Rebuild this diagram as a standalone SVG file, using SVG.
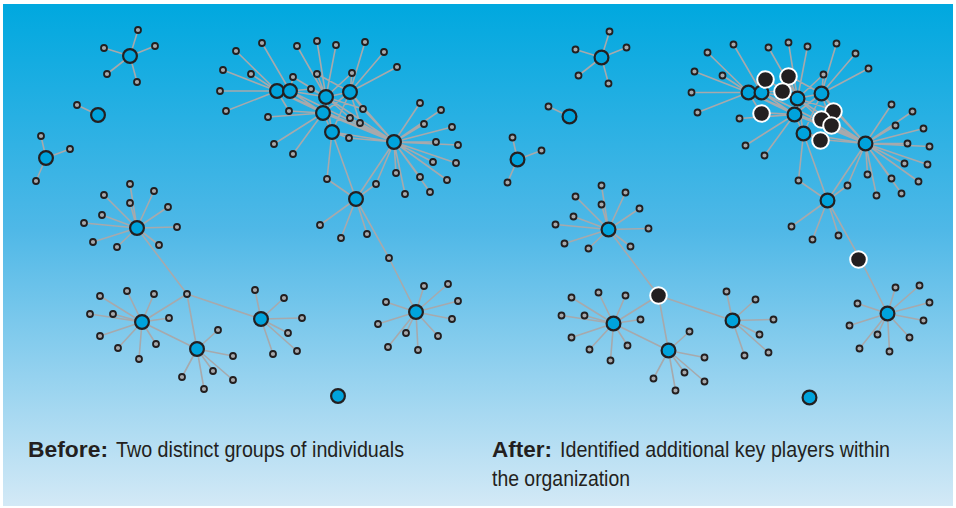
<svg xmlns="http://www.w3.org/2000/svg" width="956" height="508" viewBox="0 0 956 508">
<defs>
<linearGradient id="bgGrad" x1="0" y1="0" x2="0" y2="1">
<stop offset="0" stop-color="#00a8df"/>
<stop offset="0.45" stop-color="#4fb8e7"/>
<stop offset="1" stop-color="#d3e9f6"/>
</linearGradient>
<style>
.e{stroke:#a7a9ac;stroke-width:1.6;fill:none}
.hub{fill:#00a3dc;stroke:#231f20;stroke-width:2.2}
.sm{fill:#a7a9ac;stroke:#231f20;stroke-width:1.8}
.key{fill:#231f20;stroke:#ffffff;stroke-width:2}
.t{font-family:"Liberation Sans Narrow","Liberation Sans",Arial,sans-serif;font-size:22px;fill:#231f20}
.b{font-weight:bold}
</style>
</defs>
<rect x="0" y="0" width="956" height="508" fill="#ffffff"/>
<rect x="3" y="4" width="950" height="502" fill="url(#bgGrad)"/>

<g id="connectors">
<path id="edges-before" class="e" d="M130 56L138 30M130 56L155 46M130 56L104 48M130 56L107 74M130 56L137 82M98 115L77 105M46 158L41 136M46 158L70 149M46 158L36 181M277 91L236 51M277 91L223 70M277 91L251 74M277 91L220 91M277 91L226 111M277 91L289 111M290 91L262 43M290 91L293 77M290 91L311 89M326 97L297 46M326 97L317 41M326 97L336 45M326 97L317 74M326 97L293 77M326 97L311 89M326 97L352 73M326 97L363 109M326 97L350 118M350 92L365 42M350 92L384 52M350 92L397 67M350 92L352 73M350 92L317 74M350 92L360 123M350 92L363 109M323 113L268 117M323 113L274 144M323 113L293 154M323 113L289 111M332 132L327 179M332 132L349 138M356 199L320 225M356 199L341 238M356 199L367 234M356 199L327 179M356 199L376 184M356 199L389 258M356 199L332 132M356 199L394 142M394 142L420 103M394 142L441 110M394 142L424 124M394 142L452 127M394 142L436 142M394 142L458 145M394 142L433 162M394 142L456 163M394 142L396 173M394 142L420 177M394 142L447 180M394 142L430 192M394 142L405 194M394 142L376 184M394 142L363 109M394 142L350 118M394 142L360 123M394 142L349 138M394 142L277 91M394 142L290 91M394 142L326 97M394 142L350 92M394 142L323 113M394 142L332 132M277 91L290 91M277 91L323 113M290 91L323 113M290 91L326 97M326 97L323 113M326 97L332 132M326 97L350 92M350 92L323 113M323 113L332 132M350 92L332 132M137 228L130 184M137 228L104 195M137 228L154 191M137 228L130 203M137 228L102 215M137 228L168 207M137 228L84 223M137 228L177 227M137 228L93 242M137 228L117 247M137 228L159 245M137 228L187 294M187 294L142 322M187 294L197 349M187 294L261 319M142 322L197 349M142 322L100 296M142 322L127 291M142 322L154 294M142 322L90 314M142 322L113 314M142 322L169 318M142 322L100 336M142 322L118 348M142 322L139 359M142 322L156 344M197 349L218 330M197 349L233 356M197 349L213 371M197 349L233 380M197 349L182 377M197 349L204 389M261 319L255 290M261 319L284 298M261 319L302 318M261 319L288 333M261 319L297 351M261 319L273 354M389 258L416 312M416 312L424 286M416 312L448 284M416 312L458 301M416 312L386 302M416 312L378 324M416 312L452 319M416 312L406 333M416 312L438 336M416 312L388 347M416 312L418 350"/>
<path id="edges-after" class="e" transform="translate(471.5,1.5)" d="M130 56L138 30M130 56L155 46M130 56L104 48M130 56L107 74M130 56L137 82M98 115L77 105M46 158L41 136M46 158L70 149M46 158L36 181M277 91L236 51M277 91L223 70M277 91L251 74M277 91L220 91M277 91L226 111M277 91L289 111M290 91L262 43M290 91L293 77M290 91L311 89M326 97L297 46M326 97L317 41M326 97L336 45M326 97L317 74M326 97L293 77M326 97L311 89M326 97L352 73M326 97L363 109M326 97L350 118M350 92L365 42M350 92L384 52M350 92L397 67M350 92L352 73M350 92L317 74M350 92L360 123M350 92L363 109M323 113L268 117M323 113L274 144M323 113L293 154M323 113L289 111M332 132L327 179M332 132L349 138M356 199L320 225M356 199L341 238M356 199L367 234M356 199L327 179M356 199L376 184M356 199L389 258M356 199L332 132M356 199L394 142M394 142L420 103M394 142L441 110M394 142L424 124M394 142L452 127M394 142L436 142M394 142L458 145M394 142L433 162M394 142L456 163M394 142L396 173M394 142L420 177M394 142L447 180M394 142L430 192M394 142L405 194M394 142L376 184M394 142L363 109M394 142L350 118M394 142L360 123M394 142L349 138M394 142L277 91M394 142L290 91M394 142L326 97M394 142L350 92M394 142L323 113M394 142L332 132M277 91L290 91M277 91L323 113M290 91L323 113M290 91L326 97M326 97L323 113M326 97L332 132M326 97L350 92M350 92L323 113M323 113L332 132M350 92L332 132M137 228L130 184M137 228L104 195M137 228L154 191M137 228L130 203M137 228L102 215M137 228L168 207M137 228L84 223M137 228L177 227M137 228L93 242M137 228L117 247M137 228L159 245M137 228L187 294M187 294L142 322M187 294L197 349M187 294L261 319M142 322L197 349M142 322L100 296M142 322L127 291M142 322L154 294M142 322L90 314M142 322L113 314M142 322L169 318M142 322L100 336M142 322L118 348M142 322L139 359M142 322L156 344M197 349L218 330M197 349L233 356M197 349L213 371M197 349L233 380M197 349L182 377M197 349L204 389M261 319L255 290M261 319L284 298M261 319L302 318M261 319L288 333M261 319L297 351M261 319L273 354M389 258L416 312M416 312L424 286M416 312L448 284M416 312L458 301M416 312L386 302M416 312L378 324M416 312L452 319M416 312L406 333M416 312L438 336M416 312L388 347M416 312L418 350"/>
</g>

<g id="before">
<g id="b-n1"><circle class="sm" cx="138" cy="30" r="3"/></g>
<g id="b-n2"><circle class="sm" cx="155" cy="46" r="3"/></g>
<g id="b-n3"><circle class="sm" cx="104" cy="48" r="3"/></g>
<g id="b-n4"><circle class="sm" cx="107" cy="74" r="3"/></g>
<g id="b-n5"><circle class="sm" cx="137" cy="82" r="3"/></g>
<g id="b-o1"><circle class="sm" cx="77" cy="105" r="3"/></g>
<g id="b-p1"><circle class="sm" cx="41" cy="136" r="3"/></g>
<g id="b-p2"><circle class="sm" cx="70" cy="149" r="3"/></g>
<g id="b-p3"><circle class="sm" cx="36" cy="181" r="3"/></g>
<g id="b-t1"><circle class="sm" cx="262" cy="43" r="3"/></g>
<g id="b-t2"><circle class="sm" cx="236" cy="51" r="3"/></g>
<g id="b-t3"><circle class="sm" cx="297" cy="46" r="3"/></g>
<g id="b-t4"><circle class="sm" cx="317" cy="41" r="3"/></g>
<g id="b-t5"><circle class="sm" cx="336" cy="45" r="3"/></g>
<g id="b-t6"><circle class="sm" cx="365" cy="42" r="3"/></g>
<g id="b-t7"><circle class="sm" cx="384" cy="52" r="3"/></g>
<g id="b-t8"><circle class="sm" cx="397" cy="67" r="3"/></g>
<g id="b-t9"><circle class="sm" cx="223" cy="70" r="3"/></g>
<g id="b-t10"><circle class="sm" cx="251" cy="74" r="3"/></g>
<g id="b-t11"><circle class="sm" cx="293" cy="77" r="3"/></g>
<g id="b-t12"><circle class="sm" cx="317" cy="74" r="3"/></g>
<g id="b-t13"><circle class="sm" cx="352" cy="73" r="3"/></g>
<g id="b-t14"><circle class="sm" cx="220" cy="91" r="3"/></g>
<g id="b-t15"><circle class="sm" cx="311" cy="89" r="3"/></g>
<g id="b-t16"><circle class="sm" cx="226" cy="111" r="3"/></g>
<g id="b-t17"><circle class="sm" cx="268" cy="117" r="3"/></g>
<g id="b-t18"><circle class="sm" cx="289" cy="111" r="3"/></g>
<g id="b-t19"><circle class="sm" cx="363" cy="109" r="3"/></g>
<g id="b-t20"><circle class="sm" cx="350" cy="118" r="3"/></g>
<g id="b-t21"><circle class="sm" cx="360" cy="123" r="3"/></g>
<g id="b-t22"><circle class="sm" cx="349" cy="138" r="3"/></g>
<g id="b-t23"><circle class="sm" cx="274" cy="144" r="3"/></g>
<g id="b-t24"><circle class="sm" cx="293" cy="154" r="3"/></g>
<g id="b-t25"><circle class="sm" cx="327" cy="179" r="3"/></g>
<g id="b-t26"><circle class="sm" cx="376" cy="184" r="3"/></g>
<g id="b-h1"><circle class="sm" cx="420" cy="103" r="3"/></g>
<g id="b-h2"><circle class="sm" cx="441" cy="110" r="3"/></g>
<g id="b-h3"><circle class="sm" cx="424" cy="124" r="3"/></g>
<g id="b-h4"><circle class="sm" cx="452" cy="127" r="3"/></g>
<g id="b-h5"><circle class="sm" cx="436" cy="142" r="3"/></g>
<g id="b-h6"><circle class="sm" cx="458" cy="145" r="3"/></g>
<g id="b-h7"><circle class="sm" cx="433" cy="162" r="3"/></g>
<g id="b-h8"><circle class="sm" cx="456" cy="163" r="3"/></g>
<g id="b-h9"><circle class="sm" cx="396" cy="173" r="3"/></g>
<g id="b-h10"><circle class="sm" cx="420" cy="177" r="3"/></g>
<g id="b-h11"><circle class="sm" cx="447" cy="180" r="3"/></g>
<g id="b-h12"><circle class="sm" cx="430" cy="192" r="3"/></g>
<g id="b-h13"><circle class="sm" cx="405" cy="194" r="3"/></g>
<g id="b-g1"><circle class="sm" cx="320" cy="225" r="3"/></g>
<g id="b-g2"><circle class="sm" cx="341" cy="238" r="3"/></g>
<g id="b-g3"><circle class="sm" cx="367" cy="234" r="3"/></g>
<g id="b-jx2"><circle class="sm" cx="389" cy="258" r="3"/></g>
<g id="b-i1"><circle class="sm" cx="130" cy="184" r="3"/></g>
<g id="b-i2"><circle class="sm" cx="104" cy="195" r="3"/></g>
<g id="b-i3"><circle class="sm" cx="154" cy="191" r="3"/></g>
<g id="b-i4"><circle class="sm" cx="130" cy="203" r="3"/></g>
<g id="b-i5"><circle class="sm" cx="102" cy="215" r="3"/></g>
<g id="b-i6"><circle class="sm" cx="168" cy="207" r="3"/></g>
<g id="b-i7"><circle class="sm" cx="84" cy="223" r="3"/></g>
<g id="b-i8"><circle class="sm" cx="177" cy="227" r="3"/></g>
<g id="b-i9"><circle class="sm" cx="93" cy="242" r="3"/></g>
<g id="b-i10"><circle class="sm" cx="117" cy="247" r="3"/></g>
<g id="b-i11"><circle class="sm" cx="159" cy="245" r="3"/></g>
<g id="b-jx1"><circle class="sm" cx="187" cy="294" r="3"/></g>
<g id="b-j1"><circle class="sm" cx="100" cy="296" r="3"/></g>
<g id="b-j2"><circle class="sm" cx="127" cy="291" r="3"/></g>
<g id="b-j3"><circle class="sm" cx="154" cy="294" r="3"/></g>
<g id="b-j4"><circle class="sm" cx="90" cy="314" r="3"/></g>
<g id="b-j5"><circle class="sm" cx="113" cy="314" r="3"/></g>
<g id="b-j6"><circle class="sm" cx="169" cy="318" r="3"/></g>
<g id="b-j7"><circle class="sm" cx="100" cy="336" r="3"/></g>
<g id="b-j8"><circle class="sm" cx="118" cy="348" r="3"/></g>
<g id="b-j9"><circle class="sm" cx="139" cy="359" r="3"/></g>
<g id="b-j10"><circle class="sm" cx="156" cy="344" r="3"/></g>
<g id="b-k1"><circle class="sm" cx="218" cy="330" r="3"/></g>
<g id="b-k2"><circle class="sm" cx="233" cy="356" r="3"/></g>
<g id="b-k3"><circle class="sm" cx="213" cy="371" r="3"/></g>
<g id="b-k4"><circle class="sm" cx="233" cy="380" r="3"/></g>
<g id="b-k5"><circle class="sm" cx="182" cy="377" r="3"/></g>
<g id="b-k6"><circle class="sm" cx="204" cy="389" r="3"/></g>
<g id="b-l1"><circle class="sm" cx="255" cy="290" r="3"/></g>
<g id="b-l2"><circle class="sm" cx="284" cy="298" r="3"/></g>
<g id="b-l3"><circle class="sm" cx="302" cy="318" r="3"/></g>
<g id="b-l4"><circle class="sm" cx="288" cy="333" r="3"/></g>
<g id="b-l5"><circle class="sm" cx="297" cy="351" r="3"/></g>
<g id="b-l6"><circle class="sm" cx="273" cy="354" r="3"/></g>
<g id="b-m1"><circle class="sm" cx="424" cy="286" r="3"/></g>
<g id="b-m2"><circle class="sm" cx="448" cy="284" r="3"/></g>
<g id="b-m3"><circle class="sm" cx="458" cy="301" r="3"/></g>
<g id="b-m4"><circle class="sm" cx="386" cy="302" r="3"/></g>
<g id="b-m5"><circle class="sm" cx="378" cy="324" r="3"/></g>
<g id="b-m6"><circle class="sm" cx="452" cy="319" r="3"/></g>
<g id="b-m7"><circle class="sm" cx="406" cy="333" r="3"/></g>
<g id="b-m8"><circle class="sm" cx="438" cy="336" r="3"/></g>
<g id="b-m9"><circle class="sm" cx="388" cy="347" r="3"/></g>
<g id="b-m10"><circle class="sm" cx="418" cy="350" r="3"/></g>
<g id="b-hubN"><circle class="hub" cx="130" cy="56" r="6.9"/></g>
<g id="b-hubO"><circle class="hub" cx="98" cy="115" r="6.9"/></g>
<g id="b-hubP"><circle class="hub" cx="46" cy="158" r="6.9"/></g>
<g id="b-hubA"><circle class="hub" cx="277" cy="91" r="6.9"/></g>
<g id="b-hubB"><circle class="hub" cx="290" cy="91" r="6.9"/></g>
<g id="b-hubC"><circle class="hub" cx="326" cy="97" r="6.9"/></g>
<g id="b-hubD"><circle class="hub" cx="350" cy="92" r="6.9"/></g>
<g id="b-hubE"><circle class="hub" cx="323" cy="113" r="6.9"/></g>
<g id="b-hubF"><circle class="hub" cx="332" cy="132" r="6.9"/></g>
<g id="b-hubH"><circle class="hub" cx="394" cy="142" r="6.9"/></g>
<g id="b-hubG"><circle class="hub" cx="356" cy="199" r="6.9"/></g>
<g id="b-hubI"><circle class="hub" cx="137" cy="228" r="6.9"/></g>
<g id="b-hubJ"><circle class="hub" cx="142" cy="322" r="6.9"/></g>
<g id="b-hubK"><circle class="hub" cx="197" cy="349" r="6.9"/></g>
<g id="b-hubL"><circle class="hub" cx="261" cy="319" r="6.9"/></g>
<g id="b-hubM"><circle class="hub" cx="416" cy="312" r="6.9"/></g>
<g id="b-hubQ"><circle class="hub" cx="338" cy="396" r="6.9"/></g>
</g>

<g id="after" transform="translate(471.5,1.5)">
<g id="a-n1"><circle class="sm" cx="138" cy="30" r="3"/></g>
<g id="a-n2"><circle class="sm" cx="155" cy="46" r="3"/></g>
<g id="a-n3"><circle class="sm" cx="104" cy="48" r="3"/></g>
<g id="a-n4"><circle class="sm" cx="107" cy="74" r="3"/></g>
<g id="a-n5"><circle class="sm" cx="137" cy="82" r="3"/></g>
<g id="a-o1"><circle class="sm" cx="77" cy="105" r="3"/></g>
<g id="a-p1"><circle class="sm" cx="41" cy="136" r="3"/></g>
<g id="a-p2"><circle class="sm" cx="70" cy="149" r="3"/></g>
<g id="a-p3"><circle class="sm" cx="36" cy="181" r="3"/></g>
<g id="a-t1"><circle class="sm" cx="262" cy="43" r="3"/></g>
<g id="a-t2"><circle class="sm" cx="236" cy="51" r="3"/></g>
<g id="a-t3"><circle class="sm" cx="297" cy="46" r="3"/></g>
<g id="a-t4"><circle class="sm" cx="317" cy="41" r="3"/></g>
<g id="a-t5"><circle class="sm" cx="336" cy="45" r="3"/></g>
<g id="a-t6"><circle class="sm" cx="365" cy="42" r="3"/></g>
<g id="a-t7"><circle class="sm" cx="384" cy="52" r="3"/></g>
<g id="a-t8"><circle class="sm" cx="397" cy="67" r="3"/></g>
<g id="a-t9"><circle class="sm" cx="223" cy="70" r="3"/></g>
<g id="a-t10"><circle class="sm" cx="251" cy="74" r="3"/></g>
<g id="a-t13"><circle class="sm" cx="352" cy="73" r="3"/></g>
<g id="a-t14"><circle class="sm" cx="220" cy="91" r="3"/></g>
<g id="a-t16"><circle class="sm" cx="226" cy="111" r="3"/></g>
<g id="a-t17"><circle class="sm" cx="268" cy="117" r="3"/></g>
<g id="a-t23"><circle class="sm" cx="274" cy="144" r="3"/></g>
<g id="a-t24"><circle class="sm" cx="293" cy="154" r="3"/></g>
<g id="a-t25"><circle class="sm" cx="327" cy="179" r="3"/></g>
<g id="a-t26"><circle class="sm" cx="376" cy="184" r="3"/></g>
<g id="a-h1"><circle class="sm" cx="420" cy="103" r="3"/></g>
<g id="a-h2"><circle class="sm" cx="441" cy="110" r="3"/></g>
<g id="a-h3"><circle class="sm" cx="424" cy="124" r="3"/></g>
<g id="a-h4"><circle class="sm" cx="452" cy="127" r="3"/></g>
<g id="a-h5"><circle class="sm" cx="436" cy="142" r="3"/></g>
<g id="a-h6"><circle class="sm" cx="458" cy="145" r="3"/></g>
<g id="a-h7"><circle class="sm" cx="433" cy="162" r="3"/></g>
<g id="a-h8"><circle class="sm" cx="456" cy="163" r="3"/></g>
<g id="a-h9"><circle class="sm" cx="396" cy="173" r="3"/></g>
<g id="a-h10"><circle class="sm" cx="420" cy="177" r="3"/></g>
<g id="a-h11"><circle class="sm" cx="447" cy="180" r="3"/></g>
<g id="a-h12"><circle class="sm" cx="430" cy="192" r="3"/></g>
<g id="a-h13"><circle class="sm" cx="405" cy="194" r="3"/></g>
<g id="a-g1"><circle class="sm" cx="320" cy="225" r="3"/></g>
<g id="a-g2"><circle class="sm" cx="341" cy="238" r="3"/></g>
<g id="a-g3"><circle class="sm" cx="367" cy="234" r="3"/></g>
<g id="a-i1"><circle class="sm" cx="130" cy="184" r="3"/></g>
<g id="a-i2"><circle class="sm" cx="104" cy="195" r="3"/></g>
<g id="a-i3"><circle class="sm" cx="154" cy="191" r="3"/></g>
<g id="a-i4"><circle class="sm" cx="130" cy="203" r="3"/></g>
<g id="a-i5"><circle class="sm" cx="102" cy="215" r="3"/></g>
<g id="a-i6"><circle class="sm" cx="168" cy="207" r="3"/></g>
<g id="a-i7"><circle class="sm" cx="84" cy="223" r="3"/></g>
<g id="a-i8"><circle class="sm" cx="177" cy="227" r="3"/></g>
<g id="a-i9"><circle class="sm" cx="93" cy="242" r="3"/></g>
<g id="a-i10"><circle class="sm" cx="117" cy="247" r="3"/></g>
<g id="a-i11"><circle class="sm" cx="159" cy="245" r="3"/></g>
<g id="a-j1"><circle class="sm" cx="100" cy="296" r="3"/></g>
<g id="a-j2"><circle class="sm" cx="127" cy="291" r="3"/></g>
<g id="a-j3"><circle class="sm" cx="154" cy="294" r="3"/></g>
<g id="a-j4"><circle class="sm" cx="90" cy="314" r="3"/></g>
<g id="a-j5"><circle class="sm" cx="113" cy="314" r="3"/></g>
<g id="a-j6"><circle class="sm" cx="169" cy="318" r="3"/></g>
<g id="a-j7"><circle class="sm" cx="100" cy="336" r="3"/></g>
<g id="a-j8"><circle class="sm" cx="118" cy="348" r="3"/></g>
<g id="a-j9"><circle class="sm" cx="139" cy="359" r="3"/></g>
<g id="a-j10"><circle class="sm" cx="156" cy="344" r="3"/></g>
<g id="a-k1"><circle class="sm" cx="218" cy="330" r="3"/></g>
<g id="a-k2"><circle class="sm" cx="233" cy="356" r="3"/></g>
<g id="a-k3"><circle class="sm" cx="213" cy="371" r="3"/></g>
<g id="a-k4"><circle class="sm" cx="233" cy="380" r="3"/></g>
<g id="a-k5"><circle class="sm" cx="182" cy="377" r="3"/></g>
<g id="a-k6"><circle class="sm" cx="204" cy="389" r="3"/></g>
<g id="a-l1"><circle class="sm" cx="255" cy="290" r="3"/></g>
<g id="a-l2"><circle class="sm" cx="284" cy="298" r="3"/></g>
<g id="a-l3"><circle class="sm" cx="302" cy="318" r="3"/></g>
<g id="a-l4"><circle class="sm" cx="288" cy="333" r="3"/></g>
<g id="a-l5"><circle class="sm" cx="297" cy="351" r="3"/></g>
<g id="a-l6"><circle class="sm" cx="273" cy="354" r="3"/></g>
<g id="a-m1"><circle class="sm" cx="424" cy="286" r="3"/></g>
<g id="a-m2"><circle class="sm" cx="448" cy="284" r="3"/></g>
<g id="a-m3"><circle class="sm" cx="458" cy="301" r="3"/></g>
<g id="a-m4"><circle class="sm" cx="386" cy="302" r="3"/></g>
<g id="a-m5"><circle class="sm" cx="378" cy="324" r="3"/></g>
<g id="a-m6"><circle class="sm" cx="452" cy="319" r="3"/></g>
<g id="a-m7"><circle class="sm" cx="406" cy="333" r="3"/></g>
<g id="a-m8"><circle class="sm" cx="438" cy="336" r="3"/></g>
<g id="a-m9"><circle class="sm" cx="388" cy="347" r="3"/></g>
<g id="a-m10"><circle class="sm" cx="418" cy="350" r="3"/></g>
<g id="a-hubN"><circle class="hub" cx="130" cy="56" r="6.9"/></g>
<g id="a-hubO"><circle class="hub" cx="98" cy="115" r="6.9"/></g>
<g id="a-hubP"><circle class="hub" cx="46" cy="158" r="6.9"/></g>
<g id="a-hubA"><circle class="hub" cx="277" cy="91" r="6.9"/></g>
<g id="a-hubB"><circle class="hub" cx="290" cy="91" r="6.9"/></g>
<g id="a-hubC"><circle class="hub" cx="326" cy="97" r="6.9"/></g>
<g id="a-hubD"><circle class="hub" cx="350" cy="92" r="6.9"/></g>
<g id="a-hubE"><circle class="hub" cx="323" cy="113" r="6.9"/></g>
<g id="a-hubF"><circle class="hub" cx="332" cy="132" r="6.9"/></g>
<g id="a-hubH"><circle class="hub" cx="394" cy="142" r="6.9"/></g>
<g id="a-hubG"><circle class="hub" cx="356" cy="199" r="6.9"/></g>
<g id="a-hubI"><circle class="hub" cx="137" cy="228" r="6.9"/></g>
<g id="a-hubJ"><circle class="hub" cx="142" cy="322" r="6.9"/></g>
<g id="a-hubK"><circle class="hub" cx="197" cy="349" r="6.9"/></g>
<g id="a-hubL"><circle class="hub" cx="261" cy="319" r="6.9"/></g>
<g id="a-hubM"><circle class="hub" cx="416" cy="312" r="6.9"/></g>
<g id="a-hubQ"><circle class="hub" cx="338" cy="396" r="6.9"/></g>
<g id="a-key-t11"><circle class="key" cx="294" cy="78" r="8.3"/></g>
<g id="a-key-t12"><circle class="key" cx="317" cy="75" r="8.3"/></g>
<g id="a-key-t15"><circle class="key" cx="311" cy="90" r="8.3"/></g>
<g id="a-key-t18"><circle class="key" cx="290" cy="112" r="8.3"/></g>
<g id="a-key-t19"><circle class="key" cx="362" cy="110" r="8.3"/></g>
<g id="a-key-t20"><circle class="key" cx="350" cy="118" r="8.3"/></g>
<g id="a-key-t21"><circle class="key" cx="360" cy="124" r="8.3"/></g>
<g id="a-key-t22"><circle class="key" cx="349" cy="139" r="8.3"/></g>
<g id="a-key-jx1"><circle class="key" cx="187" cy="294" r="8.3"/></g>
<g id="a-key-jx2"><circle class="key" cx="387" cy="258" r="8.3"/></g>
</g>

<g id="captions">
<text class="t b" x="28" y="457" textLength="80" lengthAdjust="spacingAndGlyphs">Before:</text>
<text class="t" x="116" y="457" textLength="288" lengthAdjust="spacingAndGlyphs">Two distinct groups of individuals</text>
<text class="t b" x="492" y="457" textLength="60" lengthAdjust="spacingAndGlyphs">After:</text>
<text class="t" x="560" y="457" textLength="330" lengthAdjust="spacingAndGlyphs">Identified additional key players within</text>
<text class="t" x="492" y="486" textLength="138" lengthAdjust="spacingAndGlyphs">the organization</text>
</g>
</svg>
